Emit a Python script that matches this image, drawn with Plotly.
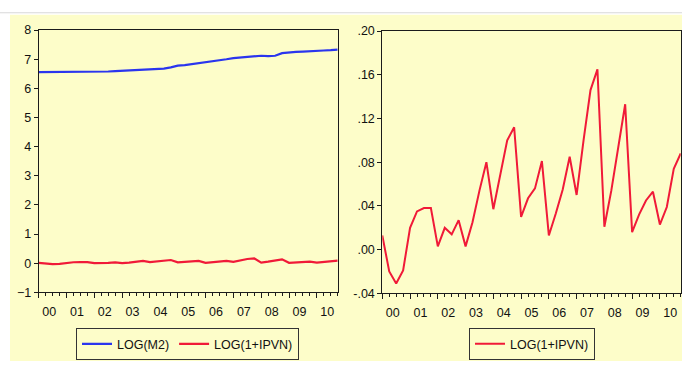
import plotly.graph_objects as go

# ---- data (quarterly, 2000Q1 .. 2010Q4) ----
years = list(range(2000, 2011))
quarters = [f"{y}Q{q}" for y in years for q in range(1, 5)]
year_labels = ["00", "01", "02", "03", "04", "05", "06", "07", "08", "09", "10"]

log_m2 = [6.56, 6.56, 6.56, 6.56,
          6.57, 6.56, 6.56, 6.57,
          6.57, 6.58, 6.58, 6.59,
          6.60, 6.61, 6.62, 6.63,
          6.66, 6.67, 6.68, 6.72,
          6.78, 6.80, 6.83, 6.86,
          6.90, 6.93, 6.96, 7.00,
          7.04, 7.06, 7.09, 7.12,
          7.12, 7.11, 7.12, 7.21,
          7.24, 7.25, 7.26, 7.28,
          7.29, 7.30, 7.31, 7.33]

log_ipvn = [0.013, -0.020, -0.031, -0.019,
            0.020, 0.035, 0.038, 0.038,
            0.003, 0.020, 0.014, 0.027,
            0.003, 0.025, 0.054, 0.080,
            0.037, 0.069, 0.100, 0.112,
            0.030, 0.047, 0.056, 0.081,
            0.013, 0.033, 0.055, 0.085,
            0.050, 0.100, 0.146, 0.165,
            0.021, 0.054, 0.093, 0.133,
            0.016, 0.032, 0.045, 0.053,
            0.023, 0.039, 0.074, 0.088]

right_ticks = [-0.04, 0.00, 0.04, 0.08, 0.12, 0.16, 0.20]
right_ticktext = ["-.04", ".00", ".04", ".08", ".12", ".16", ".20"]

# numeric positions of quarters
xq = [int(s[:4]) + (int(s[-1]) - 1) * 0.25 for s in quarters]

W, H = 682, 368
BLUE = "#2a35ee"
RED = "#f01a38"
YEL = "#fdfdc9"
FONT = "Liberation Sans, Arial, sans-serif"
FS = 12.5

def px_x(p):
    return p / W

def px_y(p):
    return 1 - p / H

fig = go.Figure()

fig.add_trace(go.Scatter(x=xq, y=log_m2, mode="lines", name="LOG(M2)",
                         line=dict(color=BLUE, width=2.2), xaxis="x", yaxis="y",
                         legend="legend", hoverinfo="skip"))
fig.add_trace(go.Scatter(x=xq, y=log_ipvn, mode="lines", name="LOG(1+IPVN)",
                         line=dict(color=RED, width=2.2), xaxis="x", yaxis="y",
                         legend="legend", hoverinfo="skip"))
fig.add_trace(go.Scatter(x=xq, y=log_ipvn, mode="lines", name="LOG(1+IPVN)",
                         line=dict(color=RED, width=2), xaxis="x2", yaxis="y2",
                         legend="legend2", hoverinfo="skip"))

xr = [xq[0], xq[-1]]
mid = [y + 0.375 for y in years]
starts = [float(y) for y in years]

def xaxis_main(domain, anchor):
    return dict(domain=domain, anchor=anchor, range=xr,
                showline=True, mirror=True, linecolor="#1b1b1b", linewidth=1,
                showgrid=False, zeroline=False,
                tickmode="array", tickvals=starts, ticks="outside", ticklen=5,
                tickcolor="#1b1b1b", showticklabels=False,
                minor=dict(tickmode="array", tickvals=xq, ticks="outside",
                           ticklen=3, tickcolor="#1b1b1b", showgrid=False))

def xaxis_labels(over, anchor):
    return dict(overlaying=over, anchor=anchor, range=xr, side="bottom",
                showline=False, showgrid=False, zeroline=False,
                tickmode="array", tickvals=mid, ticktext=year_labels,
                ticks="outside", ticklen=8, tickcolor="rgba(0,0,0,0)",
                tickfont=dict(family=FONT, size=FS, color="#111"))

lx = [px_x(38.7), px_x(337.7)]
ly = [px_y(296.7), px_y(24)]
rx = [px_x(382.3), px_x(680.7)]
ry = [px_y(297.7), px_y(25)]

fig.add_trace(go.Scatter(x=[xr[0]], y=[0], xaxis="x3", yaxis="y", showlegend=False,
                         mode="markers", marker=dict(opacity=0), hoverinfo="skip"))
fig.add_trace(go.Scatter(x=[xr[0]], y=[0], xaxis="x4", yaxis="y2", showlegend=False,
                         mode="markers", marker=dict(opacity=0), hoverinfo="skip"))

fig.update_layout(
    width=W, height=H,
    margin=dict(l=0, r=0, t=0, b=0),
    paper_bgcolor="white",
    plot_bgcolor="white",
    font=dict(family=FONT, size=FS, color="#111"),
    xaxis=xaxis_main(lx, "y"),
    xaxis2=xaxis_main(rx, "y2"),
    xaxis3=xaxis_labels("x", "y"),
    xaxis4=xaxis_labels("x2", "y2"),
    yaxis=dict(domain=ly, anchor="x", range=[-1, 8], tickmode="linear", tick0=-1, dtick=1,
               showline=True, mirror=True, linecolor="#1b1b1b", linewidth=1,
               showgrid=False, zeroline=False, ticks="outside", ticklen=4,
               tickcolor="#1b1b1b", tickfont=dict(family=FONT, size=FS, color="#111")),
    yaxis2=dict(domain=ry, anchor="x2", range=[-0.04, 0.20], tickmode="array",
                tickvals=right_ticks, ticktext=right_ticktext,
                showline=True, mirror=True, linecolor="#1b1b1b", linewidth=1,
                showgrid=False, zeroline=False, ticks="outside", ticklen=4,
                tickcolor="#1b1b1b", tickfont=dict(family=FONT, size=FS, color="#111")),
    legend=dict(orientation="h", x=px_x(187.5), y=px_y(350.5), xanchor="center",
                yanchor="middle", bgcolor=YEL, bordercolor="#333", borderwidth=1,
                font=dict(family=FONT, size=FS, color="#111"), itemwidth=30,
                tracegroupgap=0),
    legend2=dict(orientation="h", x=px_x(532), y=px_y(350.5), xanchor="center",
                 yanchor="middle", bgcolor=YEL, bordercolor="#333", borderwidth=1,
                 font=dict(family=FONT, size=FS, color="#111"), itemwidth=30),
    shapes=[
        dict(type="rect", xref="paper", yref="paper", x0=px_x(10), x1=1,
             y0=0, y1=px_y(8), fillcolor=YEL, line=dict(width=0), layer="below"),
        dict(type="line", xref="paper", yref="paper", x0=0, x1=1,
             y0=px_y(6), y1=px_y(6), line=dict(color="#d8d8d8", width=1)),
    ],
)

fig.write_html(
    "out.html",
    config={"displayModeBar": False},
    post_script="document.body.style.margin='0';document.body.style.overflow='hidden';",
)
